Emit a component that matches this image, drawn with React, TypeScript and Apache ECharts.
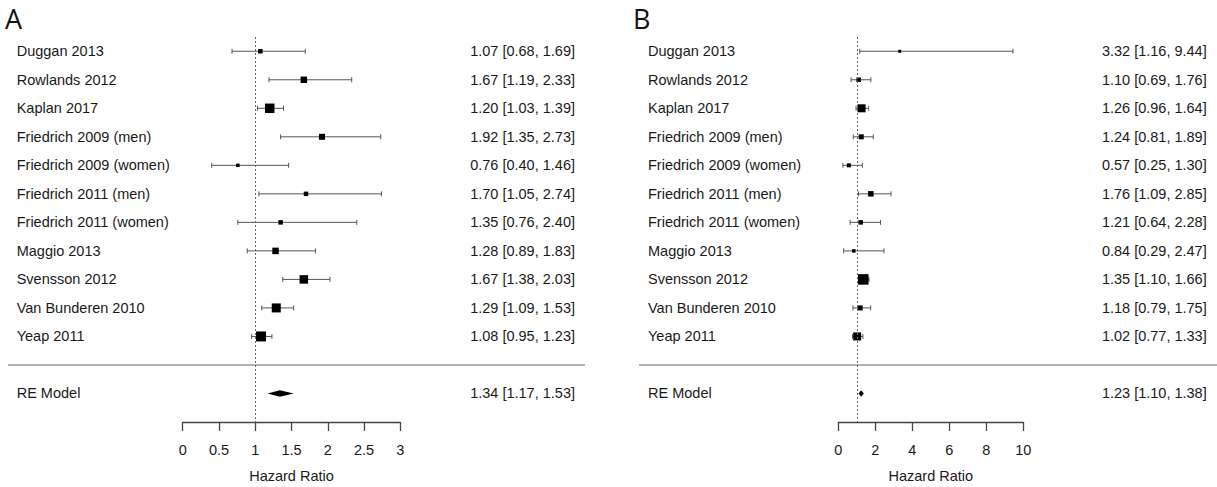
import React, { useEffect, useRef } from "react";
import * as echarts from "echarts";

const studies = [
  "Duggan 2013",
  "Rowlands 2012",
  "Kaplan 2017",
  "Friedrich 2009 (men)",
  "Friedrich 2009 (women)",
  "Friedrich 2011 (men)",
  "Friedrich 2011 (women)",
  "Maggio 2013",
  "Svensson 2012",
  "Van Bunderen 2010",
  "Yeap 2011",
];

const hrA = [1.07, 1.67, 1.2, 1.92, 0.76, 1.7, 1.35, 1.28, 1.67, 1.29, 1.08];
const loA = [0.68, 1.19, 1.03, 1.35, 0.4, 1.05, 0.76, 0.89, 1.38, 1.09, 0.95];
const hiA = [1.69, 2.33, 1.39, 2.73, 1.46, 2.74, 2.4, 1.83, 2.03, 1.53, 1.23];
const weightA = [4.5, 6.5, 9.5, 6, 3.5, 4.5, 4.5, 6.5, 8.5, 9, 10];
const reA = [1.34, 1.17, 1.53];

const hrB = [3.32, 1.1, 1.26, 1.24, 0.57, 1.76, 1.21, 0.84, 1.35, 1.18, 1.02];
const loB = [1.16, 0.69, 0.96, 0.81, 0.25, 1.09, 0.64, 0.29, 1.1, 0.79, 0.77];
const hiB = [9.44, 1.76, 1.64, 1.89, 1.3, 2.85, 2.28, 2.47, 1.66, 1.75, 1.33];
const weightB = [3, 4.5, 8, 5, 4, 5.5, 4.5, 3.5, 10.5, 5, 8];
const reB = [1.23, 1.1, 1.38];

const reLabel = "RE Model";
const axisName = "Hazard Ratio";
const panelTitles = ["A", "B"];
const xRangeA = [0, 3, 0.5];
const xRangeB = [0, 10, 2];
const refValue = 1;

const FONT = '"Liberation Sans", Arial, sans-serif';
const TEXT = "#1a1a1a";
const LINE = "#555";

const RE_ROW = 12;
const SEP_ROW = 11;

const fmt = (v: number) => v.toFixed(2);

function panel(
  g: number,
  hr: number[],
  lo: number[],
  hi: number[],
  w: number[],
  re: number[],
  leftX: number,
  rightX: number,
  sep0: number,
  sep1: number
) {
  const names = [...studies, reLabel];
  const texts = [
    ...hr.map((v, i) => `${fmt(v)} [${fmt(lo[i])}, ${fmt(hi[i])}]`),
    `${fmt(re[0])} [${fmt(re[1])}, ${fmt(re[2])}]`,
  ];
  const rows = [...studies.map((_, i) => i), RE_ROW];
  return [
    {
      type: "custom",
      xAxisIndex: g,
      yAxisIndex: g,
      clip: false,
      silent: true,
      encode: { x: [0, 2, 3], y: 1 },
      data: hr.map((v, i) => [v, i, lo[i], hi[i]]),
      renderItem: (params: any, api: any) => {
        const i = params.dataIndex;
        const row = api.value(1);
        const pe = api.coord([api.value(0), row]);
        const pl = api.coord([api.value(2), row]);
        const ph = api.coord([api.value(3), row]);
        const y = pe[1];
        const s = w[i];
        const ls = { stroke: LINE, lineWidth: 1 };
        return {
          type: "group",
          children: [
            { type: "line", shape: { x1: pl[0], y1: y, x2: ph[0], y2: y }, style: ls },
            { type: "line", shape: { x1: pl[0], y1: y - 2.5, x2: pl[0], y2: y + 2.5 }, style: ls },
            { type: "line", shape: { x1: ph[0], y1: y - 2.5, x2: ph[0], y2: y + 2.5 }, style: ls },
            {
              type: "rect",
              shape: { x: pe[0] - s / 2, y: y - s / 2, width: s, height: s },
              style: { fill: "#000" },
            },
          ],
        };
      },
      markLine: {
        silent: true,
        symbol: ["none", "none"],
        label: { show: false },
        lineStyle: { type: [2, 2], color: "#666", width: 1 },
        data: [{ xAxis: refValue }],
      },
    },
    {
      type: "custom",
      xAxisIndex: g,
      yAxisIndex: g,
      clip: false,
      silent: true,
      encode: { x: [0, 2, 3], y: 1 },
      data: [[re[0], RE_ROW, re[1], re[2]]],
      renderItem: (params: any, api: any) => {
        const row = api.value(1);
        const pe = api.coord([api.value(0), row]);
        const pl = api.coord([api.value(2), row]);
        const ph = api.coord([api.value(3), row]);
        const y = pe[1];
        const h = 3.3;
        return {
          type: "polygon",
          shape: {
            points: [
              [pl[0], y],
              [pe[0], y - h],
              [ph[0], y],
              [pe[0], y + h],
            ],
          },
          style: { fill: "#000" },
        };
      },
    },
    {
      type: "custom",
      xAxisIndex: g,
      yAxisIndex: g,
      clip: false,
      silent: true,
      encode: { x: 0, y: 1 },
      data: rows.map((r) => [refValue, r]),
      renderItem: (params: any, api: any) => {
        const i = params.dataIndex;
        const y = api.coord([api.value(0), api.value(1)])[1];
        const base = {
          fill: TEXT,
          fontFamily: FONT,
          fontSize: 14.5,
          textVerticalAlign: "middle",
          verticalAlign: "middle",
        };
        return {
          type: "group",
          children: [
            {
              type: "text",
              x: leftX,
              y,
              style: { ...base, text: names[i], textAlign: "left", align: "left" },
            },
            {
              type: "text",
              x: rightX,
              y,
              style: { ...base, text: texts[i], textAlign: "right", align: "right" },
            },
          ],
        };
      },
    },
    {
      type: "custom",
      xAxisIndex: g,
      yAxisIndex: g,
      clip: false,
      silent: true,
      encode: { x: 0, y: 1 },
      data: [[refValue, SEP_ROW]],
      renderItem: (params: any, api: any) => {
        const y = api.coord([api.value(0), api.value(1)])[1];
        return {
          type: "line",
          shape: { x1: sep0, y1: y, x2: sep1, y2: y },
          style: { stroke: "#999", lineWidth: 1.5 },
        };
      },
    },
  ];
}

function xAxis(g: number, r: number[]) {
  return {
    type: "value",
    gridIndex: g,
    min: r[0],
    max: r[1],
    interval: r[2],
    splitLine: { show: false },
    axisLine: { show: true, onZero: false, lineStyle: { color: "#444", width: 1.3 } },
    axisTick: { show: true, length: 9, lineStyle: { color: "#444", width: 1.3 } },
    axisLabel: { color: TEXT, fontFamily: FONT, fontSize: 14.5, margin: 20 },
    name: axisName,
    nameLocation: "middle",
    nameGap: 46,
    nameTextStyle: { color: TEXT, fontFamily: FONT, fontSize: 14.5 },
  };
}

function yAxis(g: number) {
  return {
    type: "value",
    gridIndex: g,
    inverse: true,
    min: -0.5,
    max: 13,
    show: false,
  };
}

export default function App() {
  const ref = useRef<HTMLDivElement>(null);
  useEffect(() => {
    if (!ref.current) return;
    const chart = echarts.init(ref.current, undefined, { renderer: "svg" });
    chart.setOption({
      animation: false,
      backgroundColor: "#fff",
      grid: [
        { left: 182.7, width: 217.6, top: 37, height: 385, containLabel: false, outerBoundsMode: "none" },
        { left: 838.3, width: 185, top: 37, height: 385, containLabel: false, outerBoundsMode: "none" },
      ],
      xAxis: [xAxis(0, xRangeA), xAxis(1, xRangeB)],
      yAxis: [yAxis(0), yAxis(1)],
      graphic: [
        {
          type: "text",
          x: 5,
          y: 18,
          style: {
            text: panelTitles[0],
            fill: "#111",
            fontFamily: '"Open Sans", sans-serif',
            fontSize: 27,
            textVerticalAlign: "middle",
            verticalAlign: "middle",
          },
        },
        {
          type: "text",
          x: 633,
          y: 18,
          style: {
            text: panelTitles[1],
            fill: "#111",
            fontFamily: '"Open Sans", sans-serif',
            fontSize: 27,
            textVerticalAlign: "middle",
            verticalAlign: "middle",
          },
        },
      ],
      series: [
        ...panel(0, hrA, loA, hiA, weightA, reA, 16.7, 575, 8, 585),
        ...panel(1, hrB, loB, hiB, weightB, reB, 648, 1206.7, 639, 1217),
      ],
    });
    return () => chart.dispose();
  }, []);
  return (
    <div
      ref={ref}
      style={{ position: "fixed", left: 0, top: 0, width: 1217, height: 487, background: "#fff" }}
    />
  );
}
